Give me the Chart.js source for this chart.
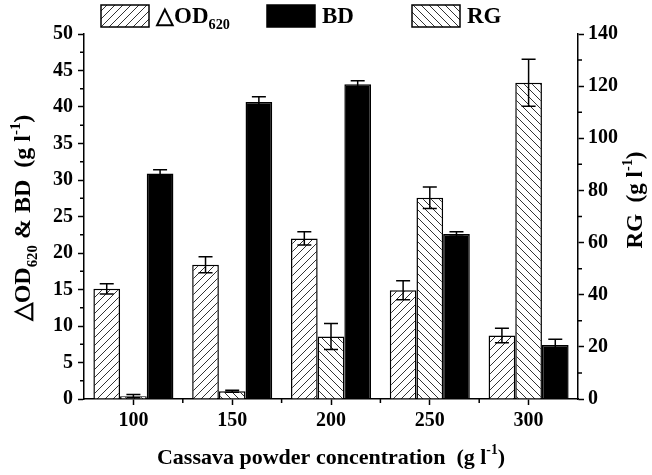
<!DOCTYPE html>
<html>
<head>
<meta charset="utf-8">
<script src="https://cdn.jsdelivr.net/npm/chart.js@4/dist/chart.umd.min.js"></script>
<style>
  body { margin: 0; background: #fff; }
  canvas { display: block; }
</style>
</head>
<body>
<canvas id="chart" width="652" height="475"></canvas>
<script>
"use strict";

const categories = ["100", "150", "200", "250", "300"];
const odValues = [15.1, 18.4, 22.0, 14.9, 8.7];
const odErrors = [0.7, 1.1, 0.9, 1.3, 1.0];
const bdValues = [30.9, 40.7, 43.1, 22.6, 7.4];
const bdErrors = [0.5, 0.7, 0.5, 0.3, 0.8];
const rgValues = [1.1, 3.0, 24.0, 77.2, 121.3];
const rgErrors = [0.6, 0.4, 5.0, 4.1, 9.0];
const leftMax = 50;
const leftStep = 5;
const rightMax = 140;
const rightStep = 20;

const serif = "'Liberation Serif', 'Times New Roman', serif";
const tickFont = { family: serif, size: 20, weight: "bold" };

const canvas = document.getElementById("chart");
const ctx = canvas.getContext("2d");

// diagonal hatch fill, dir 1 = "/" and -1 = "\"
function hatch(dir) {
  const s = 8;
  const c = document.createElement("canvas");
  c.width = s;
  c.height = s;
  const g = c.getContext("2d");
  g.fillStyle = "#fff";
  g.fillRect(0, 0, s, s);
  g.strokeStyle = "#333";
  g.lineWidth = 1;
  g.beginPath();
  if (dir > 0) {
    g.moveTo(0, s); g.lineTo(s, 0);
    g.moveTo(-2, 2); g.lineTo(2, -2);
    g.moveTo(s - 2, s + 2); g.lineTo(s + 2, s - 2);
  } else {
    g.moveTo(0, 0); g.lineTo(s, s);
    g.moveTo(-2, s - 2); g.lineTo(2, s + 2);
    g.moveTo(s - 2, -2); g.lineTo(s + 2, 2);
  }
  g.stroke();
  return ctx.createPattern(c, "repeat");
}

const odFill = hatch(1);
const rgFill = hatch(-1);

// text with sub/superscript parts, centred on 0,0 of current transform
function richText(c, parts, size) {
  let total = 0;
  parts.forEach(p => {
    p.size = p.sub || p.sup ? size * 0.62 : size;
    c.font = "bold " + p.size + "px " + serif;
    p.w = c.measureText(p.t).width;
    total += p.w;
  });
  let x = -total / 2;
  c.textAlign = "left";
  c.textBaseline = "alphabetic";
  parts.forEach(p => {
    c.font = "bold " + p.size + "px " + serif;
    let dy = size * 0.35;
    if (p.sub) dy += size * 0.28;
    if (p.sup) dy -= size * 0.42;
    c.fillText(p.t, x, dy);
    x += p.w;
  });
}

function leftText(c, parts, size, x, y) {
  c.save();
  c.translate(x, y);
  let total = 0;
  parts.forEach(p => {
    c.font = "bold " + (p.sub || p.sup ? size * 0.62 : size) + "px " + serif;
    total += c.measureText(p.t).width;
  });
  c.translate(total / 2, 0);
  richText(c, parts, size);
  c.restore();
}

const extras = {
  id: "extras",
  afterDatasetsDraw(chart) {
    const c = chart.ctx;
    c.save();
    c.strokeStyle = "#000";
    c.lineWidth = 1.5;
    chart.data.datasets.forEach((ds, i) => {
      const meta = chart.getDatasetMeta(i);
      const scale = chart.scales[meta.yAxisID];
      meta.data.forEach((bar, j) => {
        const v = ds.data[j];
        const e = ds.errors[j];
        const yt = scale.getPixelForValue(v + e);
        const yb = scale.getPixelForValue(Math.max(v - e, 0));
        c.beginPath();
        c.moveTo(bar.x, yt); c.lineTo(bar.x, yb);
        c.moveTo(bar.x - 7, yt); c.lineTo(bar.x + 7, yt);
        c.moveTo(bar.x - 7, yb); c.lineTo(bar.x + 7, yb);
        c.stroke();
      });
    });
    c.restore();
  },
  afterDraw(chart) {
    const c = chart.ctx;
    const { x, y, y1 } = chart.scales;
    const area = chart.chartArea;
    c.save();
    c.strokeStyle = "#000";
    c.lineWidth = 1.5;
    c.beginPath();
    // minor ticks
    for (let i = 0; i < categories.length - 1; i++) {
      const px = (x.getPixelForValue(i) + x.getPixelForValue(i + 1)) / 2;
      c.moveTo(px, area.bottom); c.lineTo(px, area.bottom + 4);
    }
    for (let v = leftStep / 2; v < leftMax; v += leftStep) {
      const py = y.getPixelForValue(v);
      c.moveTo(area.left, py); c.lineTo(area.left - 4, py);
    }
    for (let v = rightStep / 2; v < rightMax; v += rightStep) {
      const py = y1.getPixelForValue(v);
      c.moveTo(area.right, py); c.lineTo(area.right + 4, py);
    }
    c.stroke();

    // axis titles
    c.fillStyle = "#000";
    c.save();
    c.translate(22, 218);
    c.rotate(-Math.PI / 2);
    richText(c, [{ t: "\u25B3OD" }, { t: "620", sub: true }, { t: " & BD  (g l" }, { t: "-1", sup: true }, { t: ")" }], 24);
    c.restore();
    c.save();
    c.translate(634, 200);
    c.rotate(-Math.PI / 2);
    richText(c, [{ t: "RG  (g l" }, { t: "-1", sup: true }, { t: ")" }], 23);
    c.restore();
    c.save();
    c.translate((area.left + area.right) / 2, 456);
    richText(c, [{ t: "Cassava powder concentration  (g l" }, { t: "-1", sup: true }, { t: ")" }], 22);
    c.restore();

    // legend: same order as the original (ΔOD620, BD, RG)
    const legendOrder = [0, 2, 1];
    const legendParts = [
      [{ t: "\u25B3OD" }, { t: "620", sub: true }],
      [{ t: "RG" }],
      [{ t: "BD" }]
    ];
    const boxX = [101, 267, 412];
    legendOrder.forEach((di, k) => {
      const ds = chart.data.datasets[di];
      c.fillStyle = ds.backgroundColor;
      c.fillRect(boxX[k], 5, 48, 22);
      c.strokeStyle = "#000";
      c.lineWidth = 1.5;
      c.strokeRect(boxX[k], 5, 48, 22);
      c.fillStyle = "#000";
      leftText(c, legendParts[di], 23, boxX[k] + 55, 15);
    });
    c.restore();
  }
};

const chart = new Chart(canvas, {
  type: "bar",
  data: {
    labels: categories,
    datasets: [
      {
        label: "\u25B3OD620",
        data: odValues,
        errors: odErrors,
        backgroundColor: odFill,
        borderColor: "#000",
        borderWidth: 1.5,
        yAxisID: "y"
      },
      {
        label: "RG",
        data: rgValues,
        errors: rgErrors,
        backgroundColor: rgFill,
        borderColor: "#000",
        borderWidth: 1.5,
        yAxisID: "y1"
      },
      {
        label: "BD",
        data: bdValues,
        errors: bdErrors,
        backgroundColor: "#000",
        borderColor: "#000",
        borderWidth: 1.5,
        yAxisID: "y"
      }
    ]
  },
  options: {
    responsive: false,
    animation: false,
    layout: { padding: { top: 34, left: 0, right: 0, bottom: 0 } },
    datasets: { bar: { categoryPercentage: 0.81, barPercentage: 1 } },
    plugins: { legend: { display: false }, tooltip: { enabled: false } },
    scales: {
      x: {
        offset: true,
        grid: { offset: false, drawOnChartArea: false, tickLength: 6, tickColor: "#000", tickWidth: 1.5 },
        border: { color: "#000", width: 1.5 },
        ticks: { font: tickFont, color: "#000", padding: 4, maxRotation: 0 },
        afterFit(scale) { scale.height = 76; }
      },
      y: {
        position: "left",
        min: 0,
        max: leftMax,
        grid: { drawOnChartArea: false, tickLength: 6, tickColor: "#000", tickWidth: 1.5 },
        border: { color: "#000", width: 1.5 },
        ticks: { stepSize: leftStep, font: tickFont, color: "#000", padding: 5 },
        afterFit(scale) { scale.width = 84; }
      },
      y1: {
        position: "right",
        min: 0,
        max: rightMax,
        grid: { drawOnChartArea: false, tickLength: 6, tickColor: "#000", tickWidth: 1.5 },
        border: { color: "#000", width: 1.5 },
        ticks: { stepSize: rightStep, font: tickFont, color: "#000", padding: 4 },
        afterFit(scale) { scale.width = 74; }
      }
    }
  },
  plugins: [extras]
});
</script>
</body>
</html>
